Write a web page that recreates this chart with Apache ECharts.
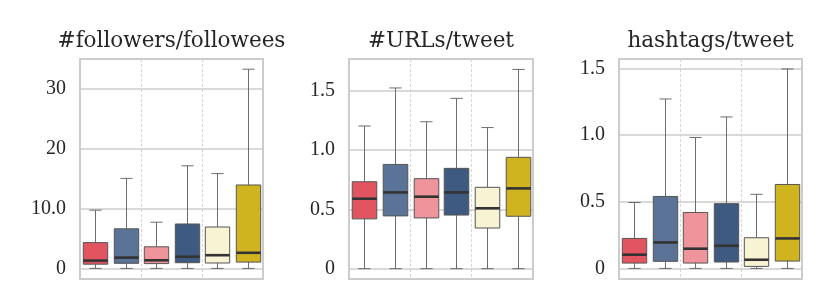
<!DOCTYPE html>
<html>
<head>
<meta charset="utf-8">
<script src="https://cdn.jsdelivr.net/npm/echarts@6/dist/echarts.min.js"></script>
<style>html,body{margin:0;padding:0;background:#fff}#chart{width:830px;height:308px}</style>
</head>
<body>
<div id="chart"></div>
<script>
// ---- data ----
const categories = ['1', '2', '3', '4', '5', '6'];
const boxColors = ['#e2545f', '#5a7396', '#ef949a', '#3f5a80', '#f8f3d2', '#d0b41f'];
const panelTitles = ['#followers/followees', '#URLs/tweet', 'hashtags/tweet'];

// panel 1: #followers/followees
const p1Low    = [0.1, 0.1, 0.1, 0.1, 0.1, 0.1];
const p1Q1     = [0.8, 0.95, 0.9, 1.05, 1.0, 1.15];
const p1Median = [1.4, 1.9, 1.45, 2.05, 2.3, 2.7];
const p1Q3     = [4.4, 6.7, 3.7, 7.5, 7.0, 14.0];
const p1High   = [9.8, 15.1, 7.8, 17.2, 15.9, 33.3];
const p1Ticks  = [0, 10, 20, 30];
const p1TickLabels = ['0', '10.0', '20', '30'];

// panel 2: #URLs/tweet
const p2Low    = [0, 0, 0, 0, 0, 0];
const p2Q1     = [0.42, 0.445, 0.428, 0.452, 0.343, 0.442];
const p2Median = [0.59, 0.643, 0.607, 0.643, 0.509, 0.677];
const p2Q3     = [0.733, 0.879, 0.759, 0.846, 0.686, 0.939];
const p2High   = [1.203, 1.524, 1.239, 1.436, 1.19, 1.68];
const p2Ticks  = [0, 0.5, 1.0, 1.5];
const p2TickLabels = ['0', '0.5', '1.0', '1.5'];

// panel 3: hashtags/tweet
const p3Low    = [0, 0, 0, 0, 0, 0];
const p3Q1     = [0.04, 0.053, 0.04, 0.048, 0.015, 0.055];
const p3Median = [0.103, 0.195, 0.148, 0.17, 0.065, 0.225];
const p3Q3     = [0.225, 0.54, 0.42, 0.486, 0.23, 0.63];
const p3High   = [0.495, 1.272, 0.983, 1.137, 0.556, 1.497];
const p3Ticks  = [0, 0.5, 1.0, 1.5];
const p3TickLabels = ['0', '0.5', '1.0', '1.5'];

const panels = [
  {low: p1Low, q1: p1Q1, med: p1Median, q3: p1Q3, high: p1High, ticks: p1Ticks, labels: p1TickLabels, min: -1.667, max: 35},
  {low: p2Low, q1: p2Q1, med: p2Median, q3: p2Q3, high: p2High, ticks: p2Ticks, labels: p2TickLabels, min: -0.087, max: 1.768},
  {low: p3Low, q1: p3Q1, med: p3Median, q3: p3Q3, high: p3High, ticks: p3Ticks, labels: p3TickLabels, min: -0.0796, max: 1.572}
];

// ---- layout ----
const gridRects = [
  {left: 80, width: 183},
  {left: 349, width: 184},
  {left: 619, width: 183}
];
const gridTop = 59, gridBottom = 29;
const tickFont = 'Liberation Serif';
const titleFont = 'DejaVu Serif';

function renderBox(params, api) {
  const x = api.value(0);
  const lo = api.coord([x, api.value(1)]);
  const q1 = api.coord([x, api.value(2)]);
  const md = api.coord([x, api.value(3)]);
  const q3 = api.coord([x, api.value(4)]);
  const hi = api.coord([x, api.value(5)]);
  const band = api.size([1, 0])[0];
  const w = band * 0.8;
  const cx = Math.round(lo[0]) + 0.5;
  const cap = w / 4;
  const color = boxColors[params.dataIndex];
  const wStyle = {stroke: '#5c5c5c', lineWidth: 0.9};
  return {
    type: 'group',
    children: [
      {type: 'line', shape: {x1: cx, y1: hi[1], x2: cx, y2: q3[1]}, style: wStyle},
      {type: 'line', shape: {x1: cx, y1: q1[1], x2: cx, y2: lo[1]}, style: wStyle},
      {type: 'line', shape: {x1: cx - cap, y1: hi[1], x2: cx + cap, y2: hi[1]}, style: wStyle},
      {type: 'line', shape: {x1: cx - cap, y1: lo[1], x2: cx + cap, y2: lo[1]}, style: wStyle},
      {type: 'rect', shape: {x: cx - w / 2, y: q3[1], width: w, height: q1[1] - q3[1]},
        style: {fill: color, stroke: '#555555', lineWidth: 1}},
      {type: 'line', shape: {x1: cx - w / 2, y1: md[1], x2: cx + w / 2, y2: md[1]},
        style: {stroke: '#333333', lineWidth: 2.6}}
    ]
  };
}

const grids = [], xAxes = [], yAxes = [], series = [], titles = [];
panels.forEach((p, i) => {
  const g = gridRects[i];
  grids.push({left: g.left, width: g.width, top: gridTop, bottom: gridBottom,
    show: true, borderColor: '#cccccc', borderWidth: 2, backgroundColor: '#ffffff'});
  xAxes.push({
    gridIndex: i, type: 'category', data: categories, boundaryGap: true,
    axisLine: {show: false}, axisTick: {show: false}, axisLabel: {show: false},
    splitLine: {show: true, interval: (idx) => idx % 2 === 0,
      lineStyle: {color: '#cccccc', width: 0.8, type: [3, 2]}}
  });
  yAxes.push({
    gridIndex: i, type: 'value', min: p.min, max: p.max,
    axisLine: {show: false}, axisTick: {show: false}, splitLine: {show: false},
    axisLabel: {
      customValues: p.ticks, margin: 14, color: '#262626', fontSize: 20, fontFamily: tickFont,
      padding: [3, 0, 0, 0],
      formatter: (v) => { const k = p.ticks.findIndex(t => Math.abs(t - v) < 1e-9); return k >= 0 ? p.labels[k] : ''; }
    }
  });
  series.push({
    type: 'line', xAxisIndex: i, yAxisIndex: i, data: [], silent: true, z: 1,
    markLine: {
      silent: true, symbol: 'none', animation: false, label: {show: false}, z: 1,
      lineStyle: {color: '#cccccc', width: 1.6, type: 'solid'},
      data: p.ticks.map(t => ({yAxis: t}))
    }
  });
  series.push({
    type: 'custom', xAxisIndex: i, yAxisIndex: i, z: 3,
    renderItem: renderBox,
    encode: {x: 0, y: [1, 2, 3, 4, 5]},
    data: categories.map((c, k) => [k, p.low[k], p.q1[k], p.med[k], p.q3[k], p.high[k]])
  });
  titles.push({
    text: panelTitles[i], left: g.left + g.width / 2, top: 41, padding: 0,
    textAlign: 'center', textVerticalAlign: 'middle',
    textStyle: {fontFamily: titleFont, fontWeight: 'normal', fontSize: 21.5, color: '#262626'}
  });
});

const chart = echarts.init(document.getElementById('chart'), null, {renderer: 'canvas'});
chart.setOption({
  animation: false,
  backgroundColor: '#ffffff',
  title: titles,
  grid: grids,
  xAxis: xAxes,
  yAxis: yAxes,
  series: series
});
</script>
</body>
</html>
